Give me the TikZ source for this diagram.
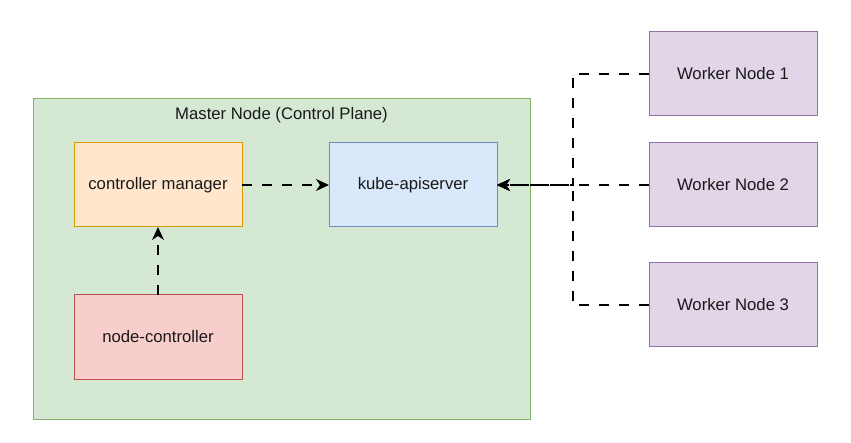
\documentclass[tikz,border=0pt]{standalone}
\usepackage{fontspec}
\setmainfont{Liberation Sans}
\usepackage{tikz}
\usetikzlibrary{arrows.meta, positioning}
\definecolor{groupfill}{HTML}{D5E8D4}
\definecolor{groupline}{HTML}{82B366}
\definecolor{cmfill}{HTML}{FFE6CC}
\definecolor{cmline}{HTML}{D79B00}
\definecolor{apifill}{HTML}{DAE8FC}
\definecolor{apiline}{HTML}{6C8EBF}
\definecolor{ncfill}{HTML}{F8CECC}
\definecolor{ncline}{HTML}{B85450}
\definecolor{wkfill}{HTML}{E1D5E7}
\definecolor{wkline}{HTML}{9673A6}

\begin{document}
\begin{tikzpicture}[
  x=1pt, y=1pt,
  every node/.style={font=\fontsize{16.7}{20}\selectfont, text=black!90},
  box/.style={rectangle, draw, line width=1pt, minimum width=168pt, minimum height=84pt, inner sep=0pt, outer sep=0pt, align=center},
  dsh/.style={-{Stealth[length=13pt, width=12pt, inset=4pt]}, line width=1.2pt, dash pattern=on 10pt off 10pt},
]
\useasboundingbox (0,0) rectangle (851,-443);

% Master node group (drawn first so it stays behind)
\node[rectangle, draw=groupline, fill=groupfill, line width=1pt, minimum width=497pt, minimum height=320pt, inner sep=0pt, outer sep=0pt] (master) at (281.5,-259) {};
\node[anchor=north, below=8pt of master.north, inner sep=0pt] (mlabel) {Master Node (Control Plane)};

% Control plane components
\node[box, draw=cmline, fill=cmfill] (cm) at (158,-185) {controller manager};
\node[box, draw=apiline, fill=apifill, right=87pt of cm] (api) {kube-apiserver};
\node[box, draw=ncline, fill=ncfill, below=68pt of cm] (nc) {node-controller};

% Workers
\node[box, draw=wkline, fill=wkfill, right=152pt of api] (w2) {Worker Node 2};
\node[box, draw=wkline, fill=wkfill, above=27pt of w2] (w1) {Worker Node 1};
\node[box, draw=wkline, fill=wkfill, below=36pt of w2] (w3) {Worker Node 3};

% Arrows inside master
\draw[dsh] (cm) -- (api);
\draw[dsh] (nc) -- (cm);

% Workers to apiserver
\draw[dsh] (w2) -- (api);
\draw[dsh] (w1.west) -- ++(-76,0) |- (api.east);
\draw[dsh] (w3.west) -- ++(-76,0) |- (api.east);
\end{tikzpicture}
\end{document}
